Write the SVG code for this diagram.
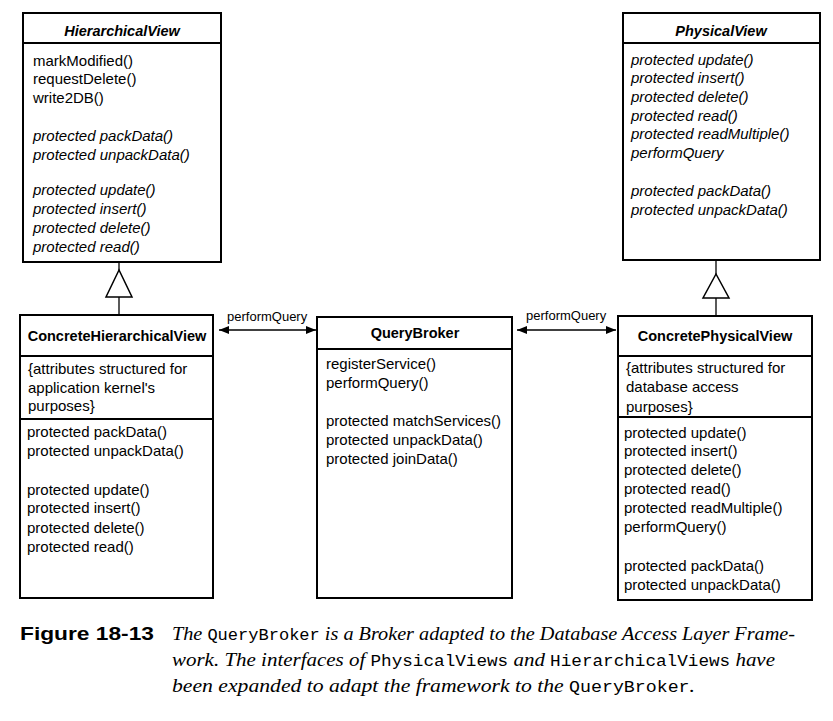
<svg xmlns="http://www.w3.org/2000/svg" width="833" height="721" viewBox="0 0 833 721">
<style>
.box{fill:#fff;stroke:#000;stroke-width:2}
.dv{stroke:#000;stroke-width:2}
.t{font-family:"Liberation Sans",Arial,sans-serif;font-size:15px;fill:#000}
.i{font-style:italic}
.h{font-family:"Liberation Sans",Arial,sans-serif;font-weight:bold;font-size:14.5px;text-anchor:middle;fill:#000}
.lbl{font-family:"Liberation Sans",Arial,sans-serif;font-size:13px;fill:#000}
.c{stroke:#000;stroke-width:1.3;fill:none}
.tri{fill:#fff;stroke:#000;stroke-width:1.5}
.cap{font-family:"Liberation Serif","Times New Roman",serif;font-style:italic;font-size:19px;fill:#000}
.mono{font-family:"Liberation Mono","Courier New",monospace;font-style:normal;font-size:16px}
.fig{font-family:"Liberation Sans",Arial,sans-serif;font-weight:bold;font-size:19px;fill:#000}
</style>
<defs>
<marker id="ah" viewBox="0 0 10 8" refX="10" refY="4" markerWidth="10" markerHeight="8" markerUnits="userSpaceOnUse" orient="auto-start-reverse">
<path d="M0,0 L10,4 L0,8 Z" fill="#000"/>
</marker>
</defs>

<g id="HierarchicalView">
<rect class="box" x="23" y="13" width="198" height="249"/>
<line class="dv" x1="23" y1="43" x2="221" y2="43"/>
<text class="h i" x="122" y="36">HierarchicalView</text>
<text class="t" x="33" y="66">markModified()</text>
<text class="t" x="33" y="84">requestDelete()</text>
<text class="t" x="33" y="103">write2DB()</text>
<text class="t i" x="33" y="141">protected packData()</text>
<text class="t i" x="33" y="160">protected unpackData()</text>
<text class="t i" x="33" y="195">protected update()</text>
<text class="t i" x="33" y="214">protected insert()</text>
<text class="t i" x="33" y="233">protected delete()</text>
<text class="t i" x="33" y="252">protected read()</text>
</g>

<g id="PhysicalView">
<rect class="box" x="623" y="13" width="197" height="247"/>
<line class="dv" x1="623" y1="43" x2="820" y2="43"/>
<text class="h i" x="721" y="36">PhysicalView</text>
<text class="t i" x="631" y="65">protected update()</text>
<text class="t i" x="631" y="83">protected insert()</text>
<text class="t i" x="631" y="102">protected delete()</text>
<text class="t i" x="631" y="121">protected read()</text>
<text class="t i" x="631" y="139">protected readMultiple()</text>
<text class="t i" x="631" y="158">performQuery</text>
<text class="t i" x="631" y="196">protected packData()</text>
<text class="t i" x="631" y="215">protected unpackData()</text>
</g>

<g id="ConcreteHierarchicalView">
<rect class="box" x="20" y="315" width="193" height="283"/>
<line class="dv" x1="20" y1="356" x2="213" y2="356"/>
<line class="dv" x1="20" y1="419" x2="213" y2="419"/>
<text class="h" x="117" y="341">ConcreteHierarchicalView</text>
<text class="t" x="28" y="374">{attributes structured for</text>
<text class="t" x="28" y="393">application kernel's</text>
<text class="t" x="28" y="411">purposes}</text>
<text class="t" x="27" y="437">protected packData()</text>
<text class="t" x="27" y="456">protected unpackData()</text>
<text class="t" x="27" y="495">protected update()</text>
<text class="t" x="27" y="513">protected insert()</text>
<text class="t" x="27" y="533">protected delete()</text>
<text class="t" x="27" y="552">protected read()</text>
</g>

<g id="QueryBroker">
<rect class="box" x="317" y="317" width="195" height="281"/>
<line class="dv" x1="317" y1="349" x2="512" y2="349"/>
<text class="h" x="415" y="338">QueryBroker</text>
<text class="t" x="326" y="369">registerService()</text>
<text class="t" x="326" y="388">performQuery()</text>
<text class="t" x="326" y="426">protected matchServices()</text>
<text class="t" x="326" y="445">protected unpackData()</text>
<text class="t" x="326" y="464">protected joinData()</text>
</g>

<g id="ConcretePhysicalView">
<rect class="box" x="618" y="316" width="194" height="284"/>
<line class="dv" x1="618" y1="356" x2="812" y2="356"/>
<line class="dv" x1="618" y1="417" x2="812" y2="417"/>
<text class="h" x="715" y="341">ConcretePhysicalView</text>
<text class="t" x="626" y="373">{attributes structured for</text>
<text class="t" x="626" y="392">database access</text>
<text class="t" x="626" y="412">purposes}</text>
<text class="t" x="624" y="438">protected update()</text>
<text class="t" x="624" y="456">protected insert()</text>
<text class="t" x="624" y="475">protected delete()</text>
<text class="t" x="624" y="494">protected read()</text>
<text class="t" x="624" y="513">protected readMultiple()</text>
<text class="t" x="624" y="532">performQuery()</text>
<text class="t" x="624" y="571">protected packData()</text>
<text class="t" x="624" y="590">protected unpackData()</text>
</g>

<g id="connectors">
<line class="c" x1="119" y1="262" x2="119" y2="270"/>
<polygon class="tri" points="119,270 106,297 132,297"/>
<line class="c" x1="119" y1="297" x2="119" y2="315"/>
<line class="c" x1="716" y1="260" x2="716" y2="274"/>
<polygon class="tri" points="716,274 703,298 729,298"/>
<line class="c" x1="716" y1="298" x2="716" y2="316"/>
<line class="c" x1="219" y1="330" x2="316" y2="330" marker-start="url(#ah)" marker-end="url(#ah)"/>
<text class="lbl" x="227" y="321">performQuery</text>
<line class="c" x1="517" y1="330" x2="616" y2="330" marker-start="url(#ah)" marker-end="url(#ah)"/>
<text class="lbl" x="526" y="320">performQuery</text>
</g>

<g id="caption">
<text class="fig" x="20" y="640" textLength="134" lengthAdjust="spacingAndGlyphs">Figure 18-13</text>
<text class="cap" x="172" y="640" textLength="623" lengthAdjust="spacingAndGlyphs">The <tspan class="mono">QueryBroker</tspan> is a Broker adapted to the Database Access Layer Frame-</text>
<text class="cap" x="172" y="666" textLength="603" lengthAdjust="spacingAndGlyphs">work. The interfaces of <tspan class="mono">PhysicalViews</tspan> and <tspan class="mono">HierarchicalViews</tspan> have</text>
<text class="cap" x="172" y="692" textLength="523" lengthAdjust="spacingAndGlyphs">been expanded to adapt the framework to the <tspan class="mono">QueryBroker</tspan>.</text>
</g>
</svg>
